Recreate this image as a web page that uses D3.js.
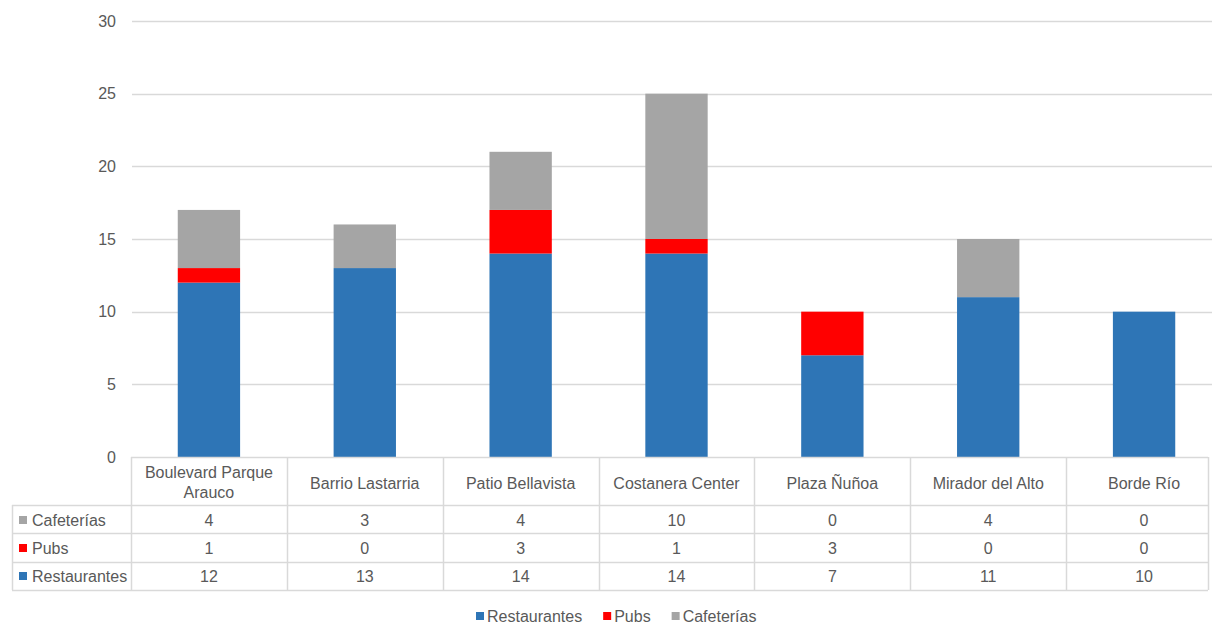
<!DOCTYPE html>
<html><head><meta charset="utf-8">
<script src="https://cdn.jsdelivr.net/npm/d3@7"></script>
<style>
html,body{margin:0;padding:0;background:#fff;}
svg{display:block;}
text{font-family:"Liberation Sans",Arial,sans-serif;fill:#595959;}
</style></head>
<body>
<svg id="chart" width="1212" height="624"></svg>
<script>
const categories = ["Boulevard Parque Arauco","Barrio Lastarria","Patio Bellavista","Costanera Center","Plaza Ñuñoa","Mirador del Alto","Borde Río"];
const restaurantes = [12,13,14,14,7,11,10];
const pubs = [1,0,3,1,3,0,0];
const cafeterias = [4,3,4,10,0,4,0];
const seriesNames = ["Restaurantes","Pubs","Cafeterías"];
const seriesColors = ["#2E75B6","#FF0000","#A5A5A5"];
const yTicks = [0,5,10,15,20,25,30];

const FS = 16;
const svg = d3.select("#chart");
const W = 1212;
const x = d3.scaleBand().domain(categories).range([131, 1222]).paddingInner(0.6).paddingOuter(0.3);
const y = d3.scaleLinear().domain([0,30]).range([457, 21]);

// gridlines
svg.append("g").selectAll("line").data(yTicks.filter(t=>t>0)).join("line")
  .attr("x1",132).attr("x2",W).attr("y1",d=>Math.round(y(d))+0.5).attr("y2",d=>Math.round(y(d))+0.5)
  .attr("stroke","#d9d9d9").attr("stroke-width",1.5);

// y axis labels
const yAxis = d3.axisLeft(y).tickValues(yTicks).tickSize(0).tickPadding(0);
const gy = svg.append("g").attr("transform","translate(116,0)").call(yAxis);
gy.select(".domain").remove();
gy.selectAll("text").attr("font-size",FS).attr("fill","#595959").style("font-family","Liberation Sans, Arial, sans-serif");

// stacked bars
const rows = categories.map((c,i)=>({cat:c, Restaurantes:restaurantes[i], Pubs:pubs[i], "Cafeterías":cafeterias[i]}));
const stack = d3.stack().keys(seriesNames)(rows);
svg.append("g").selectAll("g").data(stack).join("g")
  .attr("fill",(d,i)=>seriesColors[i])
  .selectAll("rect").data(d=>d).join("rect")
  .attr("x",d=>x(d.data.cat)).attr("width",x.bandwidth())
  .attr("y",d=>y(d[1])).attr("height",d=>y(d[0])-y(d[1]));

// data table
const step = x.step();
const colEdges = categories.map(c=>x(c)+x.bandwidth()/2-step/2);
const tableRight = 1208;
const rowTops = [457,505,533,562,590];
const gridColor = "#d9d9d9";
const tg = svg.append("g");
tg.append("line").attr("x1",colEdges[0]).attr("x2",tableRight).attr("y1",457.5).attr("y2",457.5).attr("stroke",gridColor).attr("stroke-width",1.5);
[505,533,562,590].forEach(yy=>{
  tg.append("line").attr("x1",12).attr("x2",tableRight).attr("y1",yy+0.5).attr("y2",yy+0.5).attr("stroke",gridColor).attr("stroke-width",1.5);
});
tg.append("line").attr("x1",12.5).attr("x2",12.5).attr("y1",505).attr("y2",590).attr("stroke",gridColor).attr("stroke-width",1.5);
colEdges.concat([tableRight]).forEach(xx=>{
  tg.append("line").attr("x1",Math.round(xx)+0.5).attr("x2",Math.round(xx)+0.5).attr("y1",457).attr("y2",590).attr("stroke",gridColor).attr("stroke-width",1.5);
});
// header labels
categories.forEach(c=>{
  const cx = x(c)+x.bandwidth()/2;
  const lines = c==="Boulevard Parque Arauco" ? ["Boulevard Parque","Arauco"] : [c];
  const t = tg.append("text").attr("text-anchor","middle").attr("font-size",FS);
  lines.forEach((ln,i)=>{
    t.append("tspan").attr("x",cx)
      .attr("y", lines.length===1 ? 488.5 : 478 + i*20).text(ln);
  });
});
// data rows (top to bottom: Cafeterías, Pubs, Restaurantes)
const tableSeries = [[cafeterias,2],[pubs,1],[restaurantes,0]];
const rowCenters = [520,548,576];
tableSeries.forEach(([vals,si],r)=>{
  const cy = rowCenters[r];
  tg.append("rect").attr("x",19).attr("y",cy-4).attr("width",8).attr("height",8).attr("fill",seriesColors[si]);
  tg.append("text").attr("x",32).attr("y",cy+5.5).attr("font-size",FS).text(seriesNames[si]);
  vals.forEach((v,i)=>{
    tg.append("text").attr("x",x(categories[i])+x.bandwidth()/2).attr("y",cy+5.5)
      .attr("text-anchor","middle").attr("font-size",FS).text(v);
  });
});

// legend
const lg = svg.append("g");
let lx = 476;
seriesNames.forEach((n,i)=>{
  lg.append("rect").attr("x",lx).attr("y",612).attr("width",8).attr("height",8).attr("fill",seriesColors[i]);
  const t = lg.append("text").attr("x",lx+11).attr("y",621.5).attr("font-size",FS).text(n);
  lx = lx + 11 + t.node().getComputedTextLength() + 21;
});
</script>
</body></html>
